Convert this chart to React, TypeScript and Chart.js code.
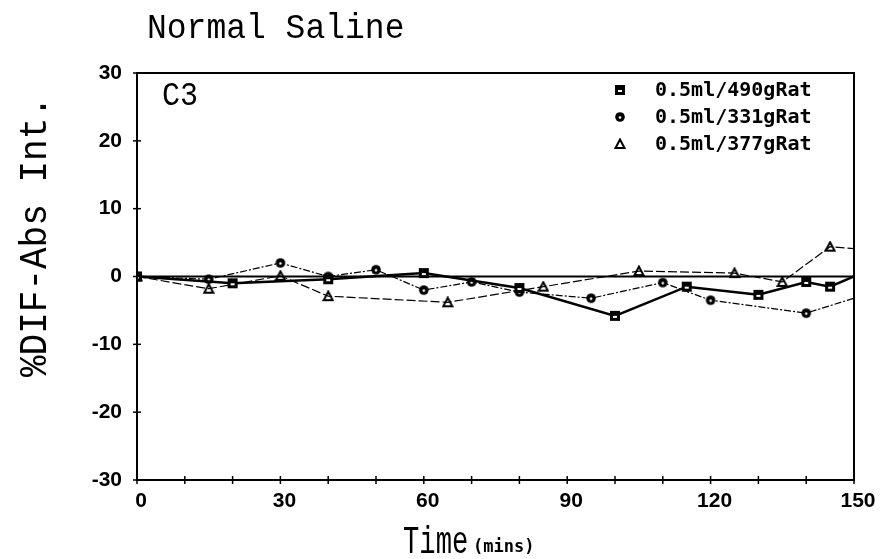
import { useEffect, useRef } from "react";
import { Chart, registerables } from "chart.js";

Chart.register(...registerables);

const chartTitle = "Normal Saline";
const panelLabel = "C3";
const xTitle = "Time";
const xTitleUnit = "(mins)";
const yTitle = "%DIF-Abs Int.";
const seriesLabels = ["0.5ml/490gRat", "0.5ml/331gRat", "0.5ml/377gRat"];

const times490 = [0, 20, 40, 60, 80, 100, 115, 130, 140, 145, 150];
const values490 = [0, -1.0, -0.4, 0.5, -1.7, -5.8, -1.5, -2.7, -0.8, -1.5, 0];

const times331 = [0, 15, 30, 40, 50, 60, 70, 80, 95, 110, 120, 140, 150];
const values331 = [0, -0.4, 2.0, 0, 1.0, -2.0, -0.8, -2.3, -3.2, -0.9, -3.5, -5.4, -3.2];

const times377 = [0, 15, 30, 40, 65, 85, 105, 125, 135, 145, 150];
const values377 = [0, -1.8, 0.1, -2.9, -3.8, -1.5, 0.8, 0.5, -0.8, 4.4, 4.1];

const xMin = 0;
const xMax = 150;
const xMinorStep = 10;
const xLabelStep = 30;
const yMin = -30;
const yMax = 30;
const yStep = 10;

function makeMarker(kind: string): HTMLCanvasElement {
  const c = document.createElement("canvas");
  c.width = 12;
  c.height = 12;
  const g = c.getContext("2d")!;
  g.fillStyle = "#000";
  g.strokeStyle = "#000";
  if (kind === "square") {
    g.fillRect(1, 1, 10, 10);
    g.fillStyle = "#fff";
    g.fillRect(4, 6, 4, 2);
  } else if (kind === "circle") {
    g.beginPath();
    g.arc(6, 6, 4.8, 0, Math.PI * 2);
    g.fill();
    g.fillStyle = "#fff";
    g.beginPath();
    g.arc(6, 6.5, 1.3, 0, Math.PI * 2);
    g.fill();
  } else {
    g.lineWidth = 2;
    g.beginPath();
    g.moveTo(6, 1.5);
    g.lineTo(10.5, 10);
    g.lineTo(1.5, 10);
    g.closePath();
    g.stroke();
  }
  return c;
}

function toPoints(xs: number[], ys: number[]) {
  return xs.map((x, i) => ({ x, y: ys[i] }));
}

export default function App() {
  const ref = useRef<HTMLCanvasElement | null>(null);

  useEffect(() => {
    if (!ref.current) return;
    const markers = [makeMarker("square"), makeMarker("circle"), makeMarker("triangle")];

    const decor = {
      id: "decor",
      beforeDatasetsDraw(chart: any) {
        const ctx = chart.ctx;
        const a = chart.chartArea;
        const ys = chart.scales.y;
        ctx.save();
        ctx.strokeStyle = "#000";
        ctx.lineWidth = 2.2;
        const y0 = ys.getPixelForValue(0);
        ctx.beginPath();
        ctx.moveTo(a.left, y0);
        ctx.lineTo(a.right, y0);
        ctx.stroke();
        ctx.restore();
      },
      afterDraw(chart: any) {
        const ctx = chart.ctx;
        const a = chart.chartArea;
        const xs = chart.scales.x;
        const ys = chart.scales.y;
        ctx.save();
        ctx.strokeStyle = "#000";
        ctx.lineWidth = 2;
        ctx.strokeRect(a.left, a.top, a.right - a.left, a.bottom - a.top);
        ctx.lineWidth = 1.5;
        for (let v = xMin; v <= xMax; v += xMinorStep) {
          const px = xs.getPixelForValue(v);
          ctx.beginPath();
          ctx.moveTo(px, a.bottom - 4);
          ctx.lineTo(px, a.bottom + 4);
          ctx.stroke();
        }
        for (let v = yMin; v <= yMax; v += yStep) {
          const py = ys.getPixelForValue(v);
          ctx.beginPath();
          ctx.moveTo(a.left - 4, py);
          ctx.lineTo(a.left + 4, py);
          ctx.stroke();
        }
        ctx.fillStyle = "#000";
        ctx.textAlign = "left";
        ctx.textBaseline = "alphabetic";
        ctx.save();
        ctx.translate(147, 38);
        ctx.scale(1, 1.08);
        ctx.font = "33px 'Liberation Mono'";
        ctx.fillText(chartTitle, 0, 0);
        ctx.restore();
        ctx.save();
        ctx.translate(162, 105);
        ctx.scale(1, 1.12);
        ctx.font = "30px 'Liberation Mono'";
        ctx.fillText(panelLabel, 0, 0);
        ctx.restore();
        ctx.save();
        ctx.translate(46, 377);
        ctx.rotate(-Math.PI / 2);
        ctx.scale(1, 1.1);
        ctx.font = "36px 'Liberation Mono'";
        ctx.fillText(yTitle, 0, 0);
        ctx.restore();
        ctx.save();
        ctx.translate(403, 553);
        ctx.scale(0.85, 1.2);
        ctx.font = "32px 'Liberation Mono'";
        ctx.fillText(xTitle, 0, 0);
        ctx.restore();
        ctx.font = "bold 17px 'DejaVu Sans Mono'";
        ctx.fillText(xTitleUnit, 473, 552);
        const rowY = [90, 117, 144];
        ctx.font = "bold 20px 'DejaVu Sans Mono'";
        ctx.textBaseline = "middle";
        for (let i = 0; i < seriesLabels.length; i++) {
          const m = markers[i];
          ctx.drawImage(m, 620 - m.width / 2, rowY[i] - m.height / 2);
          ctx.fillText(seriesLabels[i], 655, rowY[i] + 1);
        }
        ctx.restore();
      },
    };

    const chart = new Chart(ref.current, {
      type: "line",
      data: {
        datasets: [
          {
            label: seriesLabels[0],
            data: toPoints(times490, values490),
            borderColor: "#000",
            borderWidth: 2.5,
            pointStyle: markers[0] as any,
            pointRadius: times490.map((t) => (t === xMax ? 0 : 4)),
            tension: 0,
          },
          {
            label: seriesLabels[1],
            data: toPoints(times331, values331),
            borderColor: "#000",
            borderWidth: 1.2,
            borderDash: [7, 2, 2, 2],
            pointStyle: markers[1] as any,
            pointRadius: times331.map((t) => (t === xMax ? 0 : 4)),
            tension: 0,
          },
          {
            label: seriesLabels[2],
            data: toPoints(times377, values377),
            borderColor: "#000",
            borderWidth: 1.2,
            borderDash: [9, 3],
            pointStyle: markers[2] as any,
            pointRadius: times377.map((t) => (t === xMax ? 0 : 4)),
            tension: 0,
          },
        ],
      },
      options: {
        responsive: false,
        animation: false,
        events: [],
        layout: { padding: { top: 73, right: 33, left: 0, bottom: 0 } },
        plugins: {
          legend: { display: false },
          title: { display: false },
          tooltip: { enabled: false },
        },
        scales: {
          x: {
            type: "linear",
            min: xMin,
            max: xMax,
            afterFit: (s: any) => {
              s.height = 79;
            },
            afterBuildTicks: (s: any) => {
              const t = [];
              for (let v = xMin; v <= xMax; v += xLabelStep) t.push({ value: v });
              s.ticks = t;
            },
            ticks: {
              autoSkip: false,
              maxRotation: 0,
              padding: 9,
              labelOffset: 4,
              color: "#000",
              font: { family: "'Liberation Sans'", size: 21, weight: "bold" },
              callback: (v: any) => String(v),
            },
            grid: { display: false, drawTicks: false },
            border: { display: false },
          },
          y: {
            type: "linear",
            min: yMin,
            max: yMax,
            afterFit: (s: any) => {
              s.width = 137;
            },
            afterBuildTicks: (s: any) => {
              const t = [];
              for (let v = yMin; v <= yMax; v += yStep) t.push({ value: v });
              s.ticks = t;
            },
            ticks: {
              autoSkip: false,
              padding: 15,
              color: "#000",
              font: { family: "'Liberation Sans'", size: 21, weight: "bold" },
              callback: (v: any) => String(v),
            },
            grid: { display: false, drawTicks: false },
            border: { display: false },
          },
        },
      },
      plugins: [decor],
    });
    return () => chart.destroy();
  }, []);

  return (
    <div style={{ position: "fixed", left: 0, top: 0, width: 887, height: 559, background: "#fff" }}>
      <canvas ref={ref} width={887} height={559} />
    </div>
  );
}
